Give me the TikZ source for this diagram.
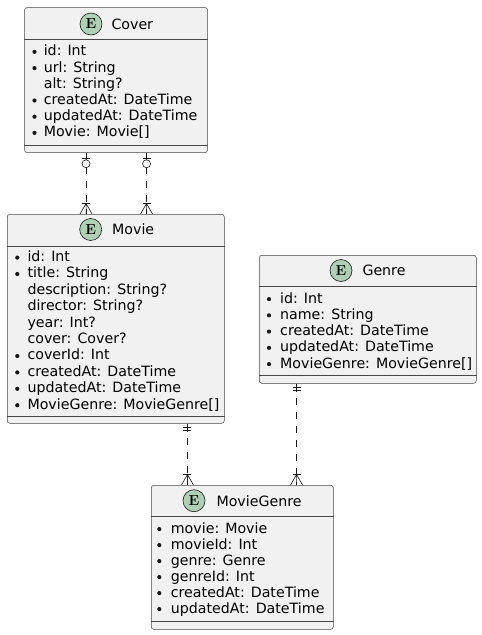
\documentclass[tikz,border=0pt]{standalone}
\usepackage{fontspec}
\setmainfont{DejaVu Sans}
\newfontfamily\spotfont{Latin Modern Roman}
\usetikzlibrary{positioning}

\definecolor{boxfill}{HTML}{F1F1F1}
\definecolor{boxline}{HTML}{181818}
\definecolor{spotfill}{HTML}{ADD1B2}

\tikzset{
  entity/.style={draw=boxline!80, fill=boxfill, rounded corners=2.5pt, line width=0.5pt, inner sep=0pt, anchor=north west},
  spot/.style={circle, draw=boxline, fill=spotfill, line width=0.6pt, minimum size=22pt, inner sep=0pt, font=\spotfont\bfseries\fontsize{14.5}{14}\selectfont},
  title/.style={inner sep=0pt, font=\fontsize{14.2}{14}\selectfont},
  attr/.style={anchor=base west, inner sep=0pt, font=\fontsize{14.2}{14}\selectfont},
  sepline/.style={draw=boxline!80, line width=0.5pt},
  rel/.style={draw=boxline, line width=0.6pt, dash pattern=on 7pt off 7pt},
  endmark/.style={draw=boxline, line width=0.6pt},
  zeroone/.pic={
    \draw[endmark] (0,0) -- (0,7);
    \draw[endmark] (-4,5) -- (4,5);
    \draw[endmark, fill=white] (0,11) circle (4pt);
  },
  onlyone/.pic={
    \draw[endmark] (0,0) -- (0,8);
    \draw[endmark] (-4,3.7) -- (4,3.7) (-4,6.5) -- (4,6.5);
  },
  onemany/.pic={
    \draw[endmark] (-4,-10.5) -- (4,-10.5);
    \draw[endmark] (-6,0) -- (0,-10.5) -- (6,0) (0,-10.5) -- (0,0);
  }
}

\begin{document}
\begin{tikzpicture}[x=1pt,y=-1pt]
  \fill[white] (0,0) rectangle (482,635);
  \useasboundingbox (0,0) rectangle (482,635);

  % Cover
  \node[entity, minimum width=183pt, minimum height=145pt] (cover) at (24.3,7.3) {};
  \node[spot] (cover-spot) at ([shift={(66.7,16.7)}]cover.north west) {E};
  \node[title, right=9pt of cover-spot] (cover-title) {Cover};
  \draw[sepline] ([yshift=-32pt]cover.north west) -- ([yshift=-32pt]cover.north east);
  \draw[sepline] ([yshift=8pt]cover.south west) -- ([yshift=8pt]cover.south east);
  \foreach \b/\t [count=\i from 0] in {1/id: Int, 1/url: String, 0/alt: String?,
      1/createdAt: DateTime, 1/updatedAt: DateTime, 1/Movie: Movie[]} {
    \node[attr] (cover-\i) at ([shift={(19.3,48.5+16.2*\i)}]cover.north west) {\t};
    \ifnum\b=1 \fill[boxline] ([shift={(10.2,44.6+16.2*\i)}]cover.north west) circle (2.1pt); \fi
  }

  % Movie
  \node[entity, minimum width=217pt, minimum height=209pt] (movie) at (7,214) {};
  \node[spot] (movie-spot) at ([shift={(83.7,15.5)}]movie.north west) {E};
  \node[title, right=10pt of movie-spot] (movie-title) {Movie};
  \draw[sepline] ([yshift=-32pt]movie.north west) -- ([yshift=-32pt]movie.north east);
  \draw[sepline] ([yshift=7pt]movie.south west) -- ([yshift=7pt]movie.south east);
  \foreach \b/\t [count=\i from 0] in {1/id: Int, 1/title: String, 0/description: String?,
      0/director: String?, 0/year: Int?, 0/cover: Cover?, 1/coverId: Int,
      1/createdAt: DateTime, 1/updatedAt: DateTime, 1/MovieGenre: MovieGenre[]} {
    \node[attr] (movie-\i) at ([shift={(20.3,47.5+16.4*\i)}]movie.north west) {\t};
    \ifnum\b=1 \fill[boxline] ([shift={(10.3,43.6+16.4*\i)}]movie.north west) circle (2.1pt); \fi
  }

  % Genre
  \node[entity, minimum width=217pt, minimum height=128pt] (genre) at (259,255) {};
  \node[spot] (genre-spot) at ([shift={(82,15.5)}]genre.north west) {E};
  \node[title, right=10pt of genre-spot] (genre-title) {Genre};
  \draw[sepline] ([yshift=-31pt]genre.north west) -- ([yshift=-31pt]genre.north east);
  \draw[sepline] ([yshift=8pt]genre.south west) -- ([yshift=8pt]genre.south east);
  \foreach \b/\t [count=\i from 0] in {1/id: Int, 1/name: String,
      1/createdAt: DateTime, 1/updatedAt: DateTime, 1/MovieGenre: MovieGenre[]} {
    \node[attr] (genre-\i) at ([shift={(21,48+16.25*\i)}]genre.north west) {\t};
    \ifnum\b=1 \fill[boxline] ([shift={(10,44.1+16.25*\i)}]genre.north west) circle (2.1pt); \fi
  }

  % MovieGenre
  \node[entity, minimum width=182pt, minimum height=144pt] (moviegenre) at (151,485) {};
  \node[spot] (moviegenre-spot) at ([shift={(43,15.7)}]moviegenre.north west) {E};
  \node[title, right=11pt of moviegenre-spot] (moviegenre-title) {MovieGenre};
  \draw[sepline] ([yshift=-31pt]moviegenre.north west) -- ([yshift=-31pt]moviegenre.north east);
  \draw[sepline] ([yshift=8pt]moviegenre.south west) -- ([yshift=8pt]moviegenre.south east);
  \foreach \b/\t [count=\i from 0] in {1/movie: Movie, 1/movieId: Int, 1/genre: Genre,
      1/genreId: Int, 1/createdAt: DateTime, 1/updatedAt: DateTime} {
    \node[attr] (moviegenre-\i) at ([shift={(19.7,48+16*\i)}]moviegenre.north west) {\t};
    \ifnum\b=1 \fill[boxline] ([shift={(8.3,44.1+16*\i)}]moviegenre.north west) circle (2.1pt); \fi
  }

  % relations
  \coordinate (cover-a) at ([xshift=-30pt]cover.south);
  \coordinate (cover-b) at ([xshift=30.5pt]cover.south);
  \coordinate (movie-c) at ([xshift=71.7pt]movie.south);
  \coordinate (genre-c) at ([xshift=-71.2pt]genre.south);
  \draw[rel] (cover-a) -- (cover-a |- movie.north);
  \draw[rel] (cover-b) -- (cover-b |- movie.north);
  \draw[rel] (movie-c) -- (movie-c |- moviegenre.north);
  \draw[rel] (genre-c) -- (genre-c |- moviegenre.north);
  \pic at (cover-a) {zeroone};
  \pic at (cover-b) {zeroone};
  \pic at (cover-a |- movie.north) {onemany};
  \pic at (cover-b |- movie.north) {onemany};
  \pic at (movie-c) {onlyone};
  \pic at (genre-c) {onlyone};
  \pic at (movie-c |- moviegenre.north) {onemany};
  \pic at (genre-c |- moviegenre.north) {onemany};
\end{tikzpicture}
\end{document}
